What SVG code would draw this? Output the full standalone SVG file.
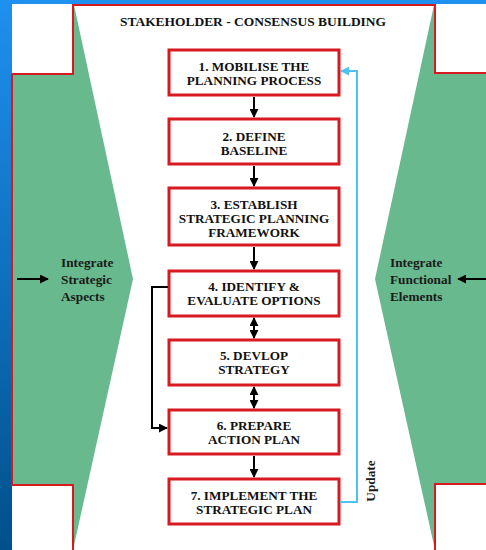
<svg xmlns="http://www.w3.org/2000/svg" width="486" height="550" viewBox="0 0 486 550">
<defs>
<linearGradient id="bg" x1="0" y1="0" x2="0" y2="1">
<stop offset="0" stop-color="#1e90f0"/>
<stop offset="1" stop-color="#00508a"/>
</linearGradient>
<marker id="ah" viewBox="0 0 10 10" refX="9" refY="5" markerWidth="4.5" markerHeight="4.5" orient="auto-start-reverse" markerUnits="strokeWidth">
<path d="M0,0 L10,5 L0,10 z" fill="#000"/>
</marker>
<marker id="ahb" viewBox="0 0 10 10" refX="9" refY="5" markerWidth="4.5" markerHeight="4.5" orient="auto" markerUnits="strokeWidth">
<path d="M0,0 L10,5 L0,10 z" fill="#4fc3ef"/>
</marker>
<style>
.box{fill:#fff;stroke:#d71920;stroke-width:3}
.t{font-family:"Liberation Serif",serif;font-weight:bold;font-size:13.2px;fill:#111;text-anchor:middle}
.s{font-family:"Liberation Serif",serif;font-weight:bold;font-size:13.3px;fill:#1a1a1a}
.c{stroke:#000;stroke-width:2;fill:none}
.green{fill:#68b98e}
.outline{fill:none;stroke:#d71920;stroke-width:2}
</style>
</defs>
<rect x="0" y="0" width="486" height="550" fill="url(#bg)"/>
<rect x="12" y="4" width="474" height="546" fill="#fff"/>
<g id="side-left">
<polygon class="green" points="12,74 73,74 73,5 74,5 133,279 73,550 73,485 12,485"/>
<text class="s" x="61" y="267">Integrate</text>
<text class="s" x="61" y="284">Strategic</text>
<text class="s" x="61" y="301">Aspects</text>
</g>
<g id="side-right">
<polygon class="green" points="486,73 435,73 435,5 434,5 375,279 435,550 435,484 486,484"/>
<text class="s" x="390" y="267">Integrate</text>
<text class="s" x="390" y="284">Functional</text>
<text class="s" x="390" y="301">Elements</text>
</g>
<polyline class="outline" points="12,74 73,74 73,5 435,5 435,73 486,73"/>
<polyline class="outline" points="12,74 12,485 73,485 73,550"/>
<polyline class="outline" points="435,550 435,484 486,484"/>
<text id="title" class="t" x="253" y="26" font-size="13" textLength="266" lengthAdjust="spacingAndGlyphs">STAKEHOLDER - CONSENSUS BUILDING</text>
<g id="n1"><rect class="box" x="169" y="50" width="170" height="45"/><text class="t" x="254" y="71">1. MOBILISE THE</text><text class="t" x="254" y="85">PLANNING PROCESS</text></g>
<g id="n2"><rect class="box" x="169" y="119" width="170" height="45"/><text class="t" x="254" y="141">2. DEFINE</text><text class="t" x="254" y="155">BASELINE</text></g>
<g id="n3"><rect class="box" x="169" y="188" width="170" height="57"/><text class="t" x="254" y="209">3. ESTABLISH</text><text class="t" x="254" y="223">STRATEGIC PLANNING</text><text class="t" x="254" y="237">FRAMEWORK</text></g>
<g id="n4"><rect class="box" x="169" y="271" width="170" height="45"/><text class="t" x="254" y="291">4. IDENTIFY &amp;</text><text class="t" x="254" y="305">EVALUATE OPTIONS</text></g>
<g id="n5"><rect class="box" x="169" y="340" width="170" height="45"/><text class="t" x="254" y="360">5. DEVLOP</text><text class="t" x="254" y="374">STRATEGY</text></g>
<g id="n6"><rect class="box" x="169" y="410" width="170" height="44"/><text class="t" x="254" y="430">6. PREPARE</text><text class="t" x="254" y="444">ACTION PLAN</text></g>
<g id="n7"><rect class="box" x="169" y="479" width="170" height="45"/><text class="t" x="254" y="500">7. IMPLEMENT THE</text><text class="t" x="254" y="514">STRATEGIC PLAN</text></g>
<g id="connectors">
<line class="c" x1="254" y1="97" x2="254" y2="117" marker-end="url(#ah)"/>
<line class="c" x1="254" y1="166" x2="254" y2="186" marker-end="url(#ah)"/>
<line class="c" x1="254" y1="247" x2="254" y2="269" marker-end="url(#ah)"/>
<line class="c" x1="254" y1="318" x2="254" y2="338" marker-start="url(#ah)" marker-end="url(#ah)"/>
<line class="c" x1="254" y1="387" x2="254" y2="408" marker-start="url(#ah)" marker-end="url(#ah)"/>
<line class="c" x1="254" y1="456" x2="254" y2="477" marker-end="url(#ah)"/>
<polyline class="c" points="168,287 152,287 152,428 167,428" marker-end="url(#ah)"/>
<polyline points="340,502 357,502 357,71 341,71" fill="none" stroke="#4fc3ef" stroke-width="2" marker-end="url(#ahb)"/>
<line class="c" x1="17" y1="279" x2="48" y2="279" marker-end="url(#ah)"/>
<line class="c" x1="486" y1="279" x2="458" y2="279" marker-end="url(#ah)"/>
<text class="s" transform="translate(375,481) rotate(-90)" text-anchor="middle">Update</text>
</g>
</svg>
